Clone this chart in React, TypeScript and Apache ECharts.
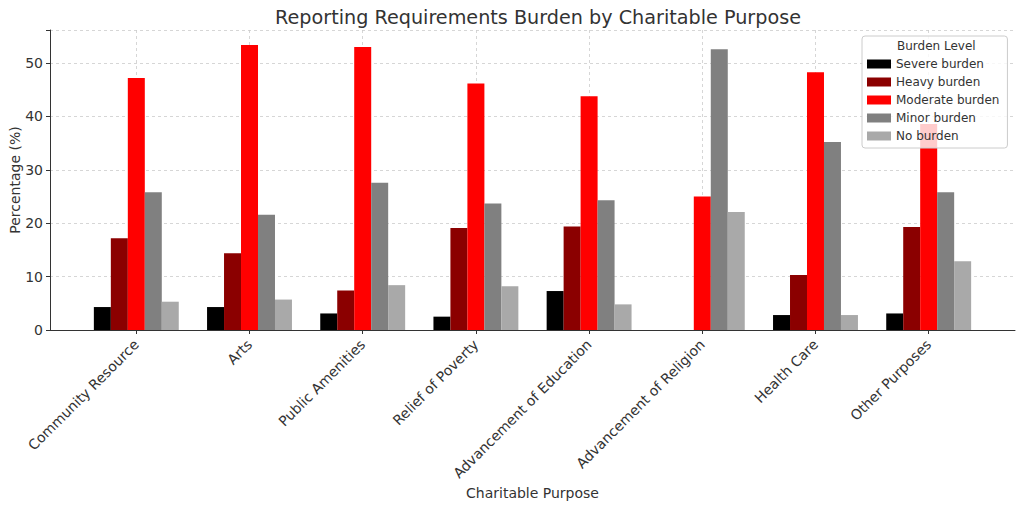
import React, { useEffect, useRef } from "react";
import * as echarts from "echarts";

const categories = [
  "Community Resource",
  "Arts",
  "Public Amenities",
  "Relief of Poverty",
  "Advancement of Education",
  "Advancement of Religion",
  "Health Care",
  "Other Purposes",
];

const levels = ["Severe burden", "Heavy burden", "Moderate burden", "Minor burden", "No burden"];
const colors = ["#000000", "#8B0000", "#FF0000", "#808080", "#A9A9A9"];

const severe = [4.3, 4.3, 3.1, 2.5, 7.3, 0, 2.8, 3.1];
const heavy = [17.2, 14.4, 7.4, 19.1, 19.4, 0, 10.3, 19.3];
const moderate = [47.2, 53.4, 53.0, 46.2, 43.8, 25.0, 48.3, 38.6];
const minor = [25.8, 21.6, 27.6, 23.7, 24.3, 52.6, 35.2, 25.8];
const noBurden = [5.3, 5.7, 8.4, 8.2, 4.8, 22.1, 2.8, 12.9];

const seriesValues = [severe, heavy, moderate, minor, noBurden];
const barStep = 0.15;
const yTicks = [0, 10, 20, 30, 40, 50];

const FONT = "DejaVu Sans";
const TEXT = "#333333";

export default function App() {
  const ref = useRef<HTMLDivElement>(null);

  useEffect(() => {
    if (!ref.current) return;
    const chart = echarts.init(ref.current, null, { renderer: "svg" });
    const catIdx = categories.map((_, i) => i);
    const option = {
      animation: false,
      backgroundColor: "#ffffff",
      textStyle: { fontFamily: FONT },
      title: {
        text: "Reporting Requirements Burden by Charitable Purpose",
        left: 533,
        textAlign: "center",
        top: 3,
        textStyle: { fontFamily: FONT, fontSize: 19.2, fontWeight: "normal", color: TEXT },
      },
      grid: {
        left: 50,
        right: 9,
        top: 30,
        bottom: 180,
        containLabel: false,
        outerBoundsMode: "none",
      },
      legend: {
        orient: "vertical",
        left: 862,
        top: 36,
        data: levels,
        icon: "rect",
        itemWidth: 24,
        itemHeight: 9,
        itemGap: 6,
        itemTextGap: 10,
        selectedMode: false,
        padding: [22, 8, 6, 5],
        backgroundColor: "rgba(255,255,255,0.8)",
        borderColor: "#cccccc",
        borderWidth: 1,
        borderRadius: 3,
        textStyle: { fontFamily: FONT, fontSize: 12, color: TEXT, lineHeight: 12 },
      },
      graphic: [
        {
          type: "text",
          z: 100,
          left: 897,
          top: 40,
          style: { text: "Burden Level", fontFamily: FONT, fontSize: 12, fill: TEXT },
        },
      ],
      xAxis: {
        type: "value",
        min: -0.7625,
        max: 7.7625,
        name: "Charitable Purpose",
        nameLocation: "middle",
        nameGap: 156,
        nameMoveOverlap: false,
        nameTextStyle: { fontFamily: FONT, fontSize: 14, color: TEXT },
        axisLine: { show: true, onZero: false, lineStyle: { color: "#333333", width: 1 } },
        axisTick: { show: true, customValues: catIdx, length: 4, lineStyle: { color: "#333333" } },
        axisLabel: {
          customValues: catIdx,
          formatter: (v: number) => categories[Math.round(v)] ?? "",
          rotate: 45,
          fontFamily: FONT,
          fontSize: 14,
          color: TEXT,
          margin: 12,
        },
        splitLine: { show: true, lineStyle: { color: "#cccccc", type: [3, 3], width: 0.8 } },
      },
      yAxis: {
        type: "value",
        min: 0,
        max: 56.2,
        interval: 10,
        name: "Percentage (%)",
        nameLocation: "middle",
        nameGap: 28,
        nameMoveOverlap: false,
        nameTextStyle: { fontFamily: FONT, fontSize: 14, color: TEXT },
        axisLine: { show: true, onZero: false, lineStyle: { color: "#333333", width: 1 } },
        axisTick: { show: true, length: 4, lineStyle: { color: "#333333" } },
        axisLabel: {
          fontFamily: FONT,
          fontSize: 14,
          color: TEXT,
          margin: 7,
          formatter: (v: number) => (yTicks.includes(v) ? String(v) : ""),
        },
        splitLine: { show: true, lineStyle: { color: "#cccccc", type: [3, 3], width: 0.8 } },
      },
      series: levels.map((name, j) => ({
        name,
        type: "bar",
        barWidth: 17,
        barGap: "-100%",
        itemStyle: { color: colors[j] },
        data: seriesValues[j].map((v, i) => [i + (j - 2) * barStep, v]),
      })),
    };
    chart.setOption(option as any);
    return () => chart.dispose();
  }, []);

  return (
    <div
      ref={ref}
      style={{ position: "fixed", left: 0, top: 0, width: 1024, height: 510 }}
    />
  );
}
